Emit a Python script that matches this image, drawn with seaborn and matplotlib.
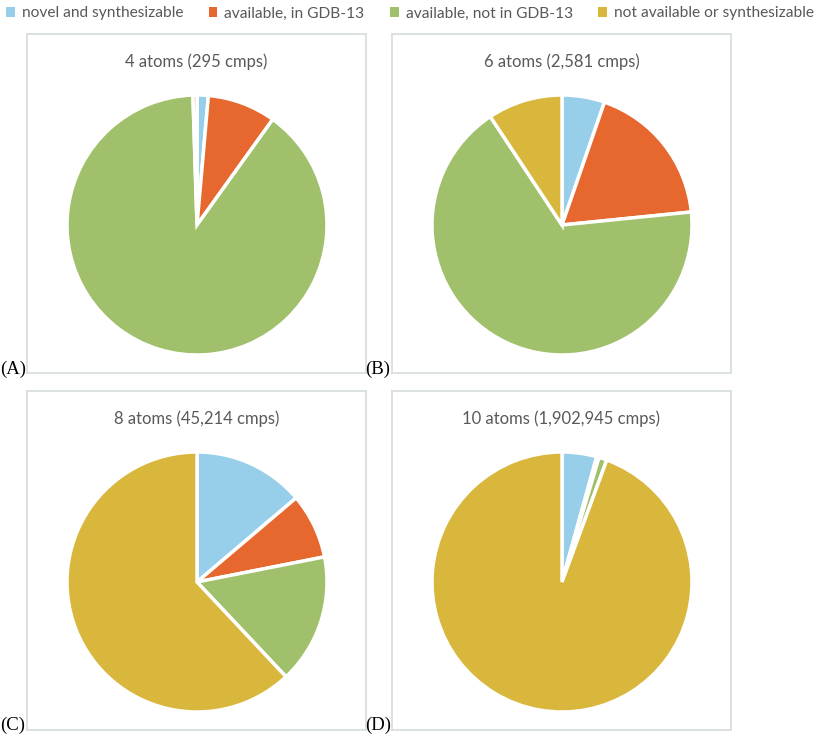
import matplotlib
matplotlib.use("Agg")
import matplotlib.pyplot as plt
from matplotlib.patches import Patch
import seaborn as sns

# categories and shares (percent of compounds)
categories = ["novel and synthesizable", "available, in GDB-13",
              "available, not in GDB-13", "not available or synthesizable"]
titles = ["4 atoms (295 cmps)", "6 atoms (2,581 cmps)",
          "8 atoms (45,214 cmps)", "10 atoms (1,902,945 cmps)"]
panel_labels = ["(A)", "(B)", "(C)", "(D)"]
share_4 = [1.4, 8.5, 89.6, 0.5]
share_6 = [5.3, 18.1, 67.3, 9.3]
share_8 = [13.8, 8.1, 16.1, 62.0]
share_10 = [4.3, 0.3, 1.0, 94.4]
shares = [share_4, share_6, share_8, share_10]

colors = ["#97CFEA", "#E6682F", "#A0C06B", "#D9B73C"]

sns.set_theme(style="white")
plt.rcParams['font.family'] = ['Lato', 'DejaVu Sans']

W, H = 827, 735
fig = plt.figure(figsize=(W / 100, H / 100), dpi=100)

# panel boxes in pixels: left, top, size
boxes = [(27, 34), (392, 34), (27, 391), (392, 391)]
size = 339

for i, (bx, by) in enumerate(boxes):
    ax = fig.add_axes([bx / W, 1 - (by + size) / H, size / W, size / H])
    ax.pie(shares[i], colors=colors, startangle=90, counterclock=False,
           radius=130, center=(170, 148),
           wedgeprops=dict(edgecolor="white", linewidth=2.5))
    ax.set_xlim(0, size)
    ax.set_ylim(0, size)
    ax.set_aspect("equal")
    ax.set_frame_on(True)
    for s in ax.spines.values():
        s.set_visible(True)
        s.set_color("#D9DEDE")
        s.set_linewidth(1.3)
    ax.set_xticks([])
    ax.set_yticks([])
    ax.text(0.5, 1 - 28 / size, titles[i], transform=ax.transAxes,
            ha="center", va="center", fontsize=12, color="#595959")
    fig.text((bx - 27) / W, 1 - min(by + size + 5, H - 1) / H, panel_labels[i],
             ha="left", va="bottom", fontsize=13.5,
             family="Liberation Serif", color="black")

handles = [Patch(facecolor=c, edgecolor="none") for c in colors]
fig.legend(handles, categories, loc="upper left", bbox_to_anchor=(-0.004, 1.004),
           ncol=4, frameon=False, fontsize=11.2, labelcolor="#595959",
           handlelength=0.55, handleheight=0.55, handletextpad=0.45,
           columnspacing=1.65, borderaxespad=0.2)

fig.savefig("out.png", dpi=100, facecolor="white")
